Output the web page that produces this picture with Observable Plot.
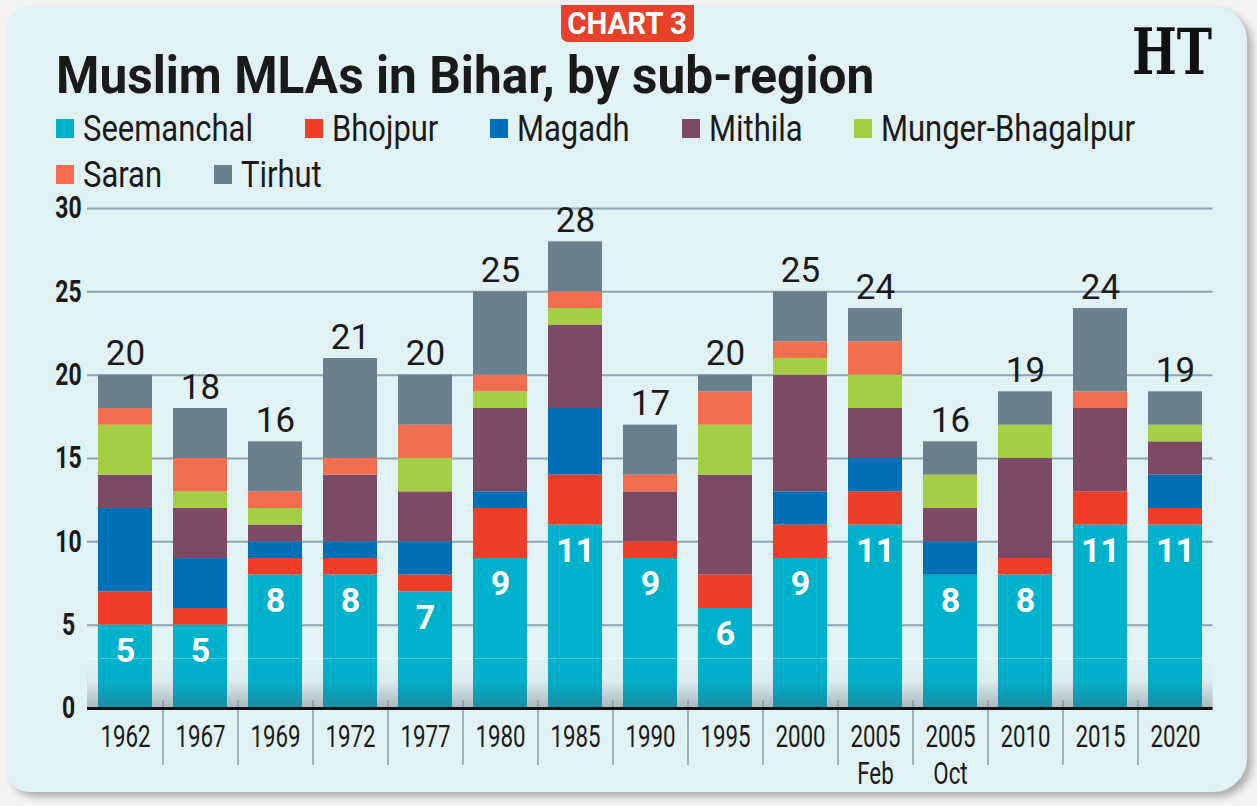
<!DOCTYPE html>
<html>
<head>
<meta charset="utf-8">
<script src="https://cdn.jsdelivr.net/npm/d3@7"></script>
<script src="https://cdn.jsdelivr.net/npm/@observablehq/plot@0.6"></script>
<style>
  html, body { margin: 0; padding: 0; background: #f2f2f2; }
  body { width: 1257px; height: 806px; overflow: hidden; font-family: Roboto, sans-serif; color: #1a1a1a; }
  #page { position: relative; width: 1257px; height: 806px; background: #f3f3f3; }
  #card {
    position: absolute; left: 7px; top: 6px; width: 1240px; height: 786px;
    background: #e1f2f4; border-radius: 22px 34px 34px 22px;
    box-shadow: 5px 5px 7px rgba(0, 0, 0, 0.28);
  }
  #badge {
    position: absolute; left: 561px; top: 5px; width: 133px; height: 37px;
    background: #e8412b; border-radius: 0 0 7px 7px;
    color: #fff; font-weight: 700; font-size: 32px; line-height: 37px; text-align: center;
  }
  #badge span { display: inline-block; transform: scaleX(0.92); }
  #logo {
    position: absolute; right: 45px; top: 20px; font-family: "DejaVu Serif", serif;
    font-weight: 700; font-size: 64px; line-height: 64px; transform: scaleX(0.74);
    transform-origin: right center; color: #111;
  }
  #title {
    position: absolute; left: 56px; top: 50px; font-weight: 700; font-size: 52px; line-height: 52px;
    white-space: nowrap; transform-origin: left center; color: #1a1a1a;
  }
  .legend-row { position: absolute; left: 56px; display: flex; align-items: flex-start; white-space: nowrap; }
  .legend-item { display: flex; align-items: flex-start; margin-right: 52px; }
  .swatch { width: 18px; height: 19px; margin-top: 8px; margin-right: 9px; flex: none; }
  .legend-label { display: inline-block; font-size: 36px; line-height: 36px; transform-origin: left center; }
  #chart { position: absolute; left: 0; top: 200px; }
</style>
</head>
<body>
<div id="page">
  <div id="card"></div>
  <div id="badge"><span>CHART 3</span></div>
  <div id="logo">HT</div>
  <div id="title">Muslim MLAs in Bihar, by sub-region</div>
  <div id="legend"></div>
  <div id="chart"></div>
</div>
<script>
// Assembly elections (x categories); "\n" splits the two 2005 polls onto two lines
const years = ["1962", "1967", "1969", "1972", "1977", "1980", "1985", "1990", "1995", "2000",
  "2005\nFeb", "2005\nOct", "2010", "2015", "2020"];

// Sub-regions, bottom to top of each stack
const regions = ["Seemanchal", "Bhojpur", "Magadh", "Mithila", "Munger-Bhagalpur", "Saran", "Tirhut"];
const regionColors = ["#00b1cc", "#ee3e27", "#0070b6", "#7c4a65", "#a6cd44", "#f26e4e", "#6a808d"];

// Muslim MLAs elected from each sub-region, per election
const seemanchal      = [5, 5, 8, 8, 7, 9, 11, 9, 6, 9, 11, 8, 8, 11, 11];
const bhojpur         = [2, 1, 1, 1, 1, 3, 3, 1, 2, 2, 2, 0, 1, 2, 1];
const magadh          = [5, 3, 1, 1, 2, 1, 4, 0, 0, 2, 2, 2, 0, 0, 2];
const mithila         = [2, 3, 1, 4, 3, 5, 5, 3, 6, 7, 3, 2, 6, 5, 2];
const mungerBhagalpur = [3, 1, 1, 0, 2, 1, 1, 0, 3, 1, 2, 2, 2, 0, 1];
const saran           = [1, 2, 1, 1, 2, 1, 1, 1, 2, 1, 2, 0, 0, 1, 0];
const tirhut          = [2, 3, 3, 6, 3, 5, 3, 3, 1, 3, 2, 2, 2, 5, 2];

const yTicks = [0, 5, 10, 15, 20, 25, 30];

const seriesByRegion = [seemanchal, bhojpur, magadh, mithila, mungerBhagalpur, saran, tirhut];

// Long table for the stacked bars
const rows = [];
regions.forEach((region, r) => {
  years.forEach((year, i) => {
    const count = seriesByRegion[r][i];
    if (count > 0) rows.push({year, region, count});
  });
});

// Totals per election, written above each stack
const totals = years.map((year, i) => ({
  year,
  total: d3.sum(seriesByRegion, (s) => s[i])
}));
const seemanchalLabels = years.map((year, i) => ({year, value: seemanchal[i]}));

// Title set in a condensed cut: squeeze it to its measure
const title = document.getElementById("title");
const titleMeasure = 818;
title.style.transform = `scaleX(${titleMeasure / title.offsetWidth})`;

// Legend, wrapped after the fifth entry
const legend = document.getElementById("legend");
const legendRows = [regions.slice(0, 5), regions.slice(5)];
const legendTops = [111, 157];
const labelSqueeze = 0.86;
legendRows.forEach((names, ri) => {
  const row = document.createElement("div");
  row.className = "legend-row";
  row.style.top = legendTops[ri] + "px";
  names.forEach((name) => {
    const item = document.createElement("div");
    item.className = "legend-item";
    const sw = document.createElement("span");
    sw.className = "swatch";
    sw.style.background = regionColors[regions.indexOf(name)];
    const lab = document.createElement("span");
    lab.className = "legend-label";
    lab.textContent = name;
    item.append(sw, lab);
    row.append(item);
  });
  legend.append(row);
});
document.querySelectorAll(".legend-label").forEach((lab) => {
  const w = lab.offsetWidth;
  lab.style.transform = `scaleX(${labelSqueeze})`;
  lab.style.marginRight = `${-(1 - labelSqueeze) * w}px`;
});

// Chart geometry
const width = 1257, height = 600;
const marginLeft = 87, marginRight = 44.5, marginTop = 8, marginBottom = 92;
const paddingInner = 0.28, paddingOuter = 0.14;
const step = (width - marginLeft - marginRight) / (years.length - paddingInner + 2 * paddingOuter);
const shadeTop = 3; // depth of the darkened band along the baseline

const plot = Plot.plot({
  width, height, marginLeft, marginRight, marginTop, marginBottom,
  style: {background: "transparent", fontFamily: "Roboto, sans-serif", color: "#1a1a1a", overflow: "visible"},
  x: {domain: years, paddingInner, paddingOuter, label: null},
  y: {domain: [0, 30], label: null},
  color: {domain: regions, range: regionColors},
  marks: [
    Plot.gridY(yTicks, {stroke: "#8ea3b0", strokeOpacity: 1, strokeWidth: 2}),
    Plot.barY(rows, {x: "year", y: "count", fill: "region", order: regions}),
    Plot.rect([0], {y1: 0, y2: shadeTop, fill: "url(#base-shade)"}),
    Plot.ruleY([shadeTop], {stroke: "#ffffff", strokeOpacity: 0.3, strokeWidth: 1}),
    Plot.ruleX(years.slice(1), {x: (d) => d, dx: -step / 2, stroke: "#8a9ba8", strokeWidth: 1.5,
      insetTop: height - marginTop - marginBottom - 8, insetBottom: -57}),
    Plot.ruleY([0], {stroke: "#111", strokeWidth: 3}),
    Plot.text(totals, {x: "year", y: "total", text: "total", lineAnchor: "bottom", dy: -10,
      fontSize: 35, fill: "#1a1a1a"}),
    Plot.text(seemanchalLabels, {x: "year", y: "value", text: "value", dy: 26,
      fontSize: 34, fontWeight: 700, fill: "#ffffff"}),
    Plot.axisX({tickSize: 0, tickPadding: 13, lineAnchor: "top", fontSize: 31, lineHeight: 1.17, fill: "#1a1a1a"}),
    Plot.axisY(yTicks, {tickSize: 0, tickPadding: 19, textAnchor: "middle", fontSize: 31, fontWeight: 700, fill: "#1a1a1a"})
  ]
});

// Gradient used by the baseline shading
d3.select(plot).insert("defs", ":first-child").html(`
  <linearGradient id="base-shade" x1="0" y1="0" x2="0" y2="1">
    <stop offset="0" stop-color="#46505a" stop-opacity="0"/>
    <stop offset="0.45" stop-color="#46505a" stop-opacity="0.04"/>
    <stop offset="1" stop-color="#46505a" stop-opacity="0.36"/>
  </linearGradient>`);

// Condense axis tick labels horizontally
function squeeze(selector, k) {
  plot.querySelectorAll(selector).forEach((t) => {
    t.setAttribute("transform", (t.getAttribute("transform") || "") + ` scale(${k},1)`);
  });
}
squeeze('g[aria-label="x-axis tick label"] text', 0.72);
squeeze('g[aria-label="y-axis tick label"] text', 0.74);

document.getElementById("chart").append(plot);
</script>
</body>
</html>
